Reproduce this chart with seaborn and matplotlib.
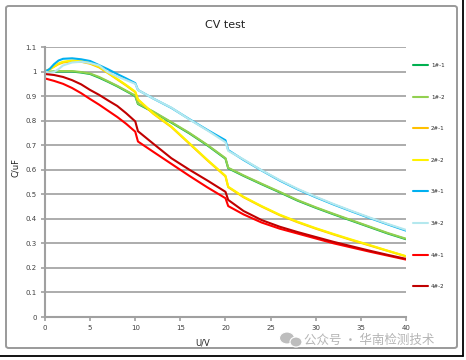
import pandas as pd
import seaborn as sns
import matplotlib.pyplot as plt
from matplotlib.patches import FancyBboxPatch, Ellipse
from matplotlib.lines import Line2D
from matplotlib.ticker import FuncFormatter

# bias voltage (V)
u = [0, 0.5, 1, 1.5, 2, 3, 4, 5, 6, 7, 8, 9, 10, 10.3, 12, 14, 16, 18, 20, 20.3,
     22, 24, 26, 28, 30, 32, 34, 36, 38, 40]

# capacitance (uF)
c_1_1 = [1.0, 0.998, 0.999, 1.0, 1.0, 1.0, 0.996, 0.99, 0.975, 0.958, 0.94, 0.92, 0.9, 0.868, 0.835,
         0.792, 0.748, 0.699, 0.645, 0.606, 0.575, 0.541, 0.508, 0.474, 0.445, 0.418, 0.392, 0.366, 0.34, 0.317]
c_1_2 = [1.0, 1.0, 1.001, 1.002, 1.002, 1.002, 0.998, 0.992, 0.978, 0.96, 0.942, 0.922, 0.902, 0.87, 0.837,
         0.794, 0.75, 0.701, 0.647, 0.608, 0.577, 0.543, 0.51, 0.476, 0.447, 0.42, 0.394, 0.368, 0.342, 0.319]
c_2_1 = [1.0, 1.01, 1.02, 1.03, 1.037, 1.042, 1.04, 1.032, 1.017, 0.993, 0.968, 0.943, 0.916, 0.885, 0.828,
         0.774, 0.706, 0.638, 0.573, 0.529, 0.488, 0.45, 0.415, 0.386, 0.36, 0.336, 0.313, 0.291, 0.269, 0.247]
c_2_2 = [1.0, 1.008, 1.02, 1.033, 1.04, 1.045, 1.043, 1.035, 1.02, 0.995, 0.97, 0.945, 0.918, 0.887, 0.83,
         0.776, 0.708, 0.64, 0.575, 0.531, 0.49, 0.452, 0.417, 0.388, 0.362, 0.338, 0.315, 0.293, 0.27, 0.248]
c_3_1 = [1.0, 1.01, 1.03, 1.045, 1.052, 1.054, 1.05, 1.043, 1.026, 1.009, 0.99, 0.972, 0.953, 0.925, 0.89,
         0.852, 0.806, 0.762, 0.72, 0.68, 0.64, 0.597, 0.556, 0.52, 0.488, 0.458, 0.43, 0.403, 0.377, 0.352]
c_3_2 = [1.0, 0.995, 0.998, 1.01, 1.025, 1.037, 1.04, 1.035, 1.025, 0.997, 0.98, 0.965, 0.95, 0.925, 0.89,
         0.853, 0.805, 0.76, 0.712, 0.677, 0.642, 0.598, 0.558, 0.522, 0.49, 0.46, 0.432, 0.405, 0.379, 0.355]
c_4_1 = [0.972, 0.967, 0.962, 0.956, 0.95, 0.933, 0.912, 0.888, 0.865, 0.84, 0.815, 0.787, 0.755, 0.715, 0.673,
         0.624, 0.575, 0.528, 0.484, 0.452, 0.418, 0.385, 0.36, 0.34, 0.32, 0.3, 0.283, 0.266, 0.25, 0.234]
c_4_2 = [0.99, 0.988, 0.986, 0.982, 0.978, 0.965, 0.948, 0.925, 0.905, 0.882, 0.86, 0.83, 0.797, 0.757, 0.706,
         0.647, 0.6, 0.556, 0.51, 0.477, 0.432, 0.395, 0.368, 0.346, 0.326, 0.306, 0.288, 0.27, 0.253, 0.237]

samples = ['1#-1', '1#-2', '2#-1', '2#-2', '3#-1', '3#-2', '4#-1', '4#-2']
colors = ['#00B050', '#92D050', '#FFC000', '#FFF200', '#00B0F0', '#B4E8EE', '#FF0000', '#C00000']
series = [c_1_1, c_1_2, c_2_1, c_2_2, c_3_1, c_3_2, c_4_1, c_4_2]

df = pd.concat([pd.DataFrame({'U': u, 'C': s, 'sample': name}) for name, s in zip(samples, series)])

sns.set_style('white')
plt.rcParams['font.family'] = ['DejaVu Sans', 'Noto Sans CJK SC']

fig = plt.figure(figsize=(4.66, 3.6), dpi=100)
ax = fig.add_axes([0.0966, 0.1194, 0.7746, 0.75])

# chart frame
fig.patches.append(FancyBboxPatch((6 / 466, 12 / 360), 451 / 466, 342 / 360,
                                  boxstyle='round,pad=0,rounding_size=0.006',
                                  transform=fig.transFigure, fill=False,
                                  edgecolor='#9a9a9a', linewidth=1.4))
# screenshot edges
fig.lines.append(Line2D([0, 463 / 466], [4.5 / 360, 4.5 / 360], transform=fig.transFigure,
                        color='black', linewidth=1.3))
fig.lines.append(Line2D([463 / 466, 463 / 466], [4.5 / 360, 1], transform=fig.transFigure,
                        color='black', linewidth=1.3))

sns.lineplot(data=df, x='U', y='C', hue='sample', hue_order=samples,
             palette=colors, linewidth=1.5, ax=ax, sort=False, estimator=None)

ax.set_xlim(0, 40)
ax.set_ylim(0, 1.1)
ax.set_xticks(range(0, 41, 5))
ax.set_yticks([i / 10 for i in range(12)])
ax.yaxis.set_major_formatter(FuncFormatter(lambda v, p: '%g' % round(v, 1)))
ax.grid(axis='y', color='#a6a6a6', linewidth=1.3)
ax.set_axisbelow(True)
for side in ['top', 'right']:
    ax.spines[side].set_visible(False)
for side in ['left', 'bottom']:
    ax.spines[side].set_color('#a0a0a0')
    ax.spines[side].set_linewidth(1.5)
ax.tick_params(axis='both', labelsize=5, colors='#a0a0a0', labelcolor='#404040',
               length=3, width=1.2, direction='out', left=True, bottom=True, pad=3)

ax.set_title('CV test', fontsize=8, pad=14, color='#222222')
ax.set_xlabel('U/V', fontsize=6, color='#222222')
ax.set_ylabel('C/uF', fontsize=6, color='#222222')
ax.xaxis.set_label_coords(0.438, -0.078)
ax.yaxis.set_label_coords(-0.069, 0.552)

ax.legend(loc='upper left', bbox_to_anchor=(1.02, 0.94), frameon=False, fontsize=4,
          handlelength=2.7, handletextpad=0.5, labelspacing=4.78, borderpad=0, borderaxespad=0)

# watermark
for xy, w, h in [((287 / 466, 22 / 360), 15 / 466, 12 / 360), ((296 / 466, 18 / 360), 12 / 466, 10 / 360)]:
    fig.patches.append(Ellipse(xy, w, h, transform=fig.transFigure, facecolor='#bdbdbd',
                               edgecolor='white', linewidth=0.8))
fig.text(0.652, 0.045, '公众号 · 华南检测技术', fontsize=9, color='#b5b5b5',
         family=['Noto Sans CJK SC', 'DejaVu Sans'])

fig.savefig('out.png', dpi=100)
